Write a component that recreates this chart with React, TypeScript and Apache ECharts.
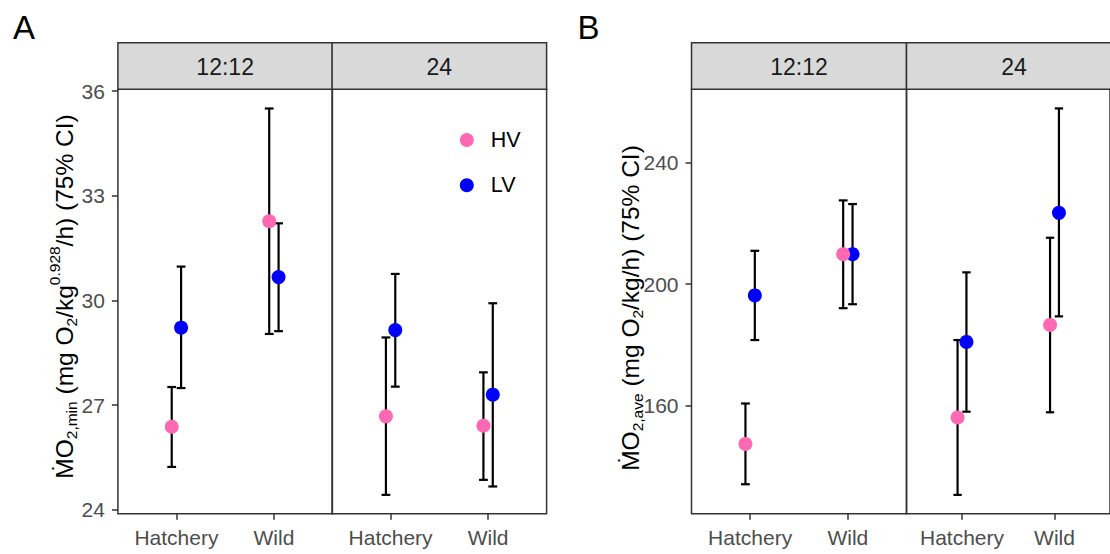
import React, { useEffect, useRef } from "react";
import * as echarts from "echarts";

// ---------- data ----------
const categories = ["Hatchery", "Wild"];
const facets = ["12:12", "24"];
const groups = ["HV", "LV"];
const groupColors = ["#FF69B4", "#0000FF"];

// Panel A: MO2,min  — rows = facet (12:12, 24), cols = category (Hatchery, Wild)
const minMeanHV = [[26.38, 32.27], [26.68, 26.41]];
const minLowHV = [[25.23, 29.04], [24.43, 24.86]];
const minHighHV = [[27.52, 35.5], [28.94, 27.94]];
const minMeanLV = [[29.22, 30.67], [29.15, 27.3]];
const minLowLV = [[27.49, 29.12], [27.53, 24.67]];
const minHighLV = [[30.97, 32.21], [30.76, 29.92]];
const minTicks = [24, 27, 30, 33, 36];

// Panel B: MO2,ave
const aveMeanHV = [[147.4, 209.9], [156.1, 186.6]];
const aveLowHV = [[134.1, 192.1], [130.6, 157.8]];
const aveHighHV = [[160.7, 227.6], [181.6, 215.3]];
const aveMeanLV = [[196.3, 209.9], [181.0, 223.5]];
const aveLowLV = [[181.6, 193.4], [158.0, 189.4]];
const aveHighLV = [[211.0, 226.4], [203.9, 257.9]];
const aveTicks = [160, 200, 240];

// ---------- layout ----------
const FONT = "'Liberation Sans', Arial, Helvetica, sans-serif";
const TOP = 89.3;
const HEIGHT = 424.4;
const STRIP_TOP = 42.7;
const STRIP_H = TOP - STRIP_TOP;
const DODGE = 0.048;
const CAP = 0.045;

const panels = [
  {
    letter: "A",
    letterX: 23.9,
    lefts: [117.9, 332.1],
    width: 214.5,
    yMin: 23.89,
    yMax: 36.05,
    ticks: minTicks,
    mean: [minMeanHV, minMeanLV],
    low: [minLowHV, minLowLV],
    high: [minHighHV, minHighLV],
    titleX: 64.2,
    titleY: 296.5,
    title:
      "{m|ṀO}{sub|2,min}{m| (mg O}{sub|2}{m|/kg}{sup|0.928}{m|/h) (75% CI)}",
  },
  {
    letter: "B",
    letterX: 588.5,
    lefts: [691.5, 906.5],
    width: 215,
    yMin: 124.4,
    yMax: 264.2,
    ticks: aveTicks,
    mean: [aveMeanHV, aveMeanLV],
    low: [aveLowHV, aveLowLV],
    high: [aveHighHV, aveHighLV],
    titleX: 630,
    titleY: 308,
    title: "{m|ṀO}{sub|2,ave}{m| (mg O}{sub|2}{m|/kg/h) (75% CI)}",
  },
];

const titleRich = {
  m: { fontSize: 24.5, fontFamily: FONT, fill: "#000", lineHeight: 35 },
  sub: {
    fontSize: 15.5,
    fontFamily: FONT,
    fill: "#000",
    verticalAlign: "bottom",
    padding: [0, 0, 2.5, 0],
  },
  sup: {
    fontSize: 15.5,
    fontFamily: FONT,
    fill: "#000",
    verticalAlign: "top",
  },
};

function buildOption() {
  const grid: any[] = [];
  const xAxis: any[] = [];
  const yAxis: any[] = [];
  const series: any[] = [];
  const graphic: any[] = [];

  panels.forEach((p) => {
    graphic.push({
      type: "text",
      x: p.letterX,
      y: 27.2,
      style: {
        text: p.letter,
        fontSize: 33,
        fontFamily: FONT,
        fill: "#000",
        align: "center",
        verticalAlign: "middle",
      },
    });
    graphic.push({
      type: "text",
      x: p.titleX,
      y: p.titleY,
      rotation: Math.PI / 2,
      style: {
        text: p.title,
        rich: titleRich,
        align: "center",
        verticalAlign: "middle",
      },
    });

    facets.forEach((f, fi) => {
      const idx = grid.length;
      const left = p.lefts[fi];
      grid.push({
        left,
        top: TOP,
        width: p.width,
        height: HEIGHT,
        show: true,
        borderColor: "#333333",
        borderWidth: 1.5,
        backgroundColor: "transparent",
        containLabel: false,
      });
      graphic.push({
        type: "rect",
        shape: { x: left, y: STRIP_TOP, width: p.width, height: STRIP_H },
        style: { fill: "#D9D9D9", stroke: "#333333", lineWidth: 1.5 },
        z: 10,
      });
      graphic.push({
        type: "text",
        x: left + p.width / 2,
        y: STRIP_TOP + STRIP_H / 2 + 0.5,
        style: {
          text: f,
          fontSize: 23,
          fontFamily: FONT,
          fill: "#1A1A1A",
          align: "center",
          verticalAlign: "middle",
        },
        z: 11,
      });

      xAxis.push({
        gridIndex: idx,
        type: "value",
        min: 0.4,
        max: 2.6,
        axisLine: { show: false },
        splitLine: { show: false },
        axisTick: {
          show: true,
          customValues: [1, 2],
          length: 6,
          lineStyle: { color: "#333333", width: 1.5 },
        },
        axisLabel: {
          customValues: [1, 2],
          formatter: (v: number) => categories[Math.round(v) - 1] ?? "",
          fontSize: 21,
          fontFamily: FONT,
          color: "#4D4D4D",
          margin: 13,
        },
      });
      yAxis.push({
        gridIndex: idx,
        type: "value",
        min: p.yMin,
        max: p.yMax,
        axisLine: { show: false },
        splitLine: { show: false },
        axisTick: {
          show: fi === 0,
          customValues: p.ticks,
          length: 6,
          lineStyle: { color: "#333333", width: 1.5 },
        },
        axisLabel: {
          show: fi === 0,
          customValues: p.ticks,
          fontSize: 21,
          fontFamily: FONT,
          color: "#4D4D4D",
          margin: 13,
        },
      });

      groups.forEach((g, gi) => {
        const off = gi === 0 ? -DODGE : DODGE;
        const errData = categories.map((c, ci) => [
          ci + 1 + off,
          p.low[gi][fi][ci],
          p.high[gi][fi][ci],
        ]);
        series.push({
          type: "custom",
          name: g + " CI",
          xAxisIndex: idx,
          yAxisIndex: idx,
          z: 2,
          silent: true,
          encode: { x: 0, y: [1, 2] },
          data: errData,
          renderItem: (params: any, api: any) => {
            const x = api.value(0);
            const lo = api.value(1);
            const hi = api.value(2);
            const a = api.coord([x, lo]);
            const b = api.coord([x, hi]);
            const l = api.coord([x - CAP, lo])[0];
            const r = api.coord([x + CAP, lo])[0];
            const st = { stroke: "#000", lineWidth: 2.2 };
            return {
              type: "group",
              children: [
                { type: "line", shape: { x1: a[0], y1: a[1], x2: b[0], y2: b[1] }, style: st },
                { type: "line", shape: { x1: l, y1: a[1], x2: r, y2: a[1] }, style: st },
                { type: "line", shape: { x1: l, y1: b[1], x2: r, y2: b[1] }, style: st },
              ],
            };
          },
        });
        series.push({
          type: "scatter",
          name: g,
          xAxisIndex: idx,
          yAxisIndex: idx,
          z: gi === 0 ? 4 : 3,
          symbol: "circle",
          symbolSize: 14,
          itemStyle: { color: groupColors[gi], opacity: 1 },
          data: categories.map((c, ci) => [ci + 1 + off, p.mean[gi][fi][ci]]),
        });
      });
    });
  });

  return {
    animation: false,
    backgroundColor: "#FFFFFF",
    grid,
    xAxis,
    yAxis,
    series,
    graphic,
    legend: {
      data: groups,
      orient: "vertical",
      left: 454.8,
      top: 123,
      itemWidth: 38,
      itemHeight: 14,
      itemGap: 21.3,
      icon: "circle",
      selectedMode: false,
      textStyle: { fontSize: 21.5, fontFamily: FONT, color: "#000", lineHeight: 24 },
    },
  };
}

export default function App() {
  const ref = useRef<HTMLDivElement>(null);
  useEffect(() => {
    document.body.style.margin = "0";
    if (!ref.current) return;
    const chart = echarts.init(ref.current, undefined, { renderer: "svg" });
    chart.setOption(buildOption() as any);
    return () => chart.dispose();
  }, []);
  return <div ref={ref} style={{ width: 1110, height: 554 }} />;
}
